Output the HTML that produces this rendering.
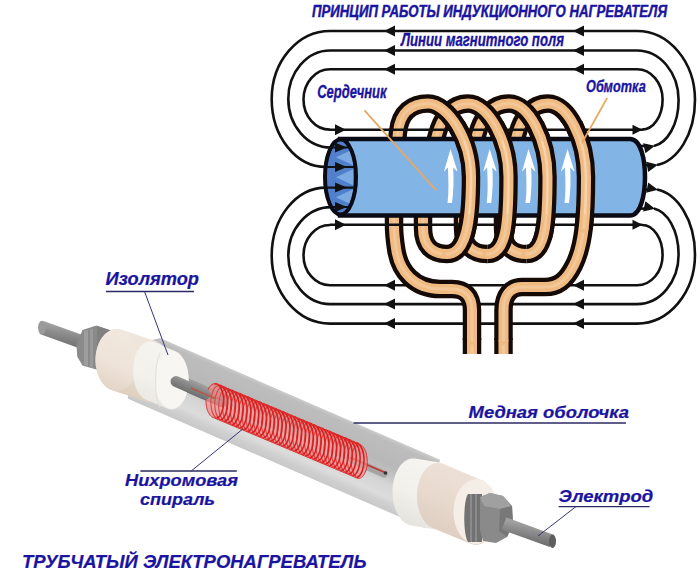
<!DOCTYPE html>
<html><head><meta charset="utf-8"><style>html,body{margin:0;padding:0;background:#fff;}svg{display:block;}</style></head>
<body><svg width="700" height="578" viewBox="0 0 700 578"><path d="M326,187.6 C296.0,187.6 271.7,218.0 271.7,255.6 C271.7,293.2 297.8,323.6 330,323.6 L637,323.6 C669.0,323.6 695.0,292.7 695,254.6 C695,219.6 677,193.6 657,189.6" fill="none" stroke="#111" stroke-width="2.6"/>
<path d="M384,323.6 L395,318.1 L395,329.1 Z" fill="#111"/>
<path d="M573,323.6 L584,318.1 L584,329.1 Z" fill="#111"/>
<g transform="rotate(11.3,657,189.6)"><path d="M658,189.6 L647,184.4 L647,194.79999999999998 Z" fill="#111"/></g>
<path d="M331,207.1 C307.4,207.1 288.3,228.8 288.3,255.6 C288.3,282.4 307.0,304.1 330,304.1 L637,304.1 C660.0,304.1 678.6,281.9 678.6,254.6 C678.6,229.6 667,211.6 654,208.6" fill="none" stroke="#111" stroke-width="2.6"/>
<path d="M384,304.1 L395,298.6 L395,309.6 Z" fill="#111"/>
<path d="M573,304.1 L584,298.6 L584,309.6 Z" fill="#111"/>
<g transform="rotate(13.0,654,208.6)"><path d="M655,208.6 L644,203.4 L644,213.79999999999998 Z" fill="#111"/></g>
<path d="M330,225.0 C315.4,225.0 303.5,238.5 303.5,255.15 C303.5,271.8 315.4,285.3 330,285.3 L637,285.3 C651.1,285.3 662.6,271.8 662.6,255.15 C662.6,238.5 653.4,225.0 642,225.0" fill="none" stroke="#111" stroke-width="2.6"/>
<path d="M384,285.3 L395,279.8 L395,290.8 Z" fill="#111"/>
<path d="M573,285.3 L584,279.8 L584,290.8 Z" fill="#111"/>
<path d="M640,208.6 L648,208.6" stroke="#111" stroke-width="2.6"/>
<path d="M640,189.6 L648,189.6" stroke="#111" stroke-width="2.6"/>
<path d="M326,167 C296.0,167.0 271.7,136.6 271.7,99.0 C271.7,61.4 297.8,31.0 330,31 L637,31 C669.0,31.0 695.0,61.9 695,100 C695,135 677,161 657,165" fill="none" stroke="#111" stroke-width="2.6"/>
<path d="M384,31 L395,25.5 L395,36.5 Z" fill="#111"/>
<path d="M573,31 L584,25.5 L584,36.5 Z" fill="#111"/>
<g transform="rotate(348.7,657,165)"><path d="M658,165 L647,159.8 L647,170.2 Z" fill="#111"/></g>
<path d="M331,147.5 C307.4,147.5 288.3,125.8 288.3,99.0 C288.3,72.2 307.0,50.5 330,50.5 L637,50.5 C660.0,50.5 678.6,72.7 678.6,100 C678.6,125 667,143 654,146" fill="none" stroke="#111" stroke-width="2.6"/>
<path d="M384,50.5 L395,45.0 L395,56.0 Z" fill="#111"/>
<path d="M573,50.5 L584,45.0 L584,56.0 Z" fill="#111"/>
<g transform="rotate(347.0,654,146)"><path d="M655,146 L644,140.8 L644,151.2 Z" fill="#111"/></g>
<path d="M330,129.6 C315.4,129.6 303.5,116.1 303.5,99.44999999999999 C303.5,82.8 315.4,69.3 330,69.3 L637,69.3 C651.1,69.3 662.6,82.8 662.6,99.44999999999999 C662.6,116.1 653.4,129.6 642,129.6" fill="none" stroke="#111" stroke-width="2.6"/>
<path d="M384,69.3 L395,63.8 L395,74.8 Z" fill="#111"/>
<path d="M573,69.3 L584,63.8 L584,74.8 Z" fill="#111"/>
<path d="M640,146 L648,146" stroke="#111" stroke-width="2.6"/>
<path d="M640,165 L648,165" stroke="#111" stroke-width="2.6"/>
<path d="M503.5,354 L503.5,338" fill="none" stroke="#150a06" stroke-width="18.5" stroke-linejoin="round"/>
<path d="M503.5,354 L503.5,338" fill="none" stroke="#efbb82" stroke-width="10" stroke-linejoin="round" stroke-linecap="butt"/>
<path d="M503.5,354 L503.5,338" fill="none" stroke="#f3c797" stroke-width="3" stroke-linejoin="round" stroke-linecap="butt"/>
<path d="M526.5,254 C511.5,254 503,246 503,228 L503,216 C503,190 513,150 517,135 C521,120 530,103.5 548,103.5 C568,103.5 586,140 586,177 C586,215 584,245 574,265 C566,281 558,287 545,287 L522,287 C510,287 503.5,296 503.5,310 L503.5,340" fill="none" stroke="#150a06" stroke-width="18.5" stroke-linejoin="round"/>
<path d="M526.5,254 C511.5,254 503,246 503,228 L503,216 C503,190 513,150 517,135 C521,120 530,103.5 548,103.5 C568,103.5 586,140 586,177 C586,215 584,245 574,265 C566,281 558,287 545,287 L522,287 C510,287 503.5,296 503.5,310 L503.5,340" fill="none" stroke="#efbb82" stroke-width="10" stroke-linejoin="round" stroke-linecap="round"/>
<path d="M526.5,254 C511.5,254 503,246 503,228 L503,216 C503,190 513,150 517,135 C521,120 530,103.5 548,103.5 C568,103.5 586,140 586,177 C586,215 584,245 574,265 C566,281 558,287 545,287 L522,287 C510,287 503.5,296 503.5,310 L503.5,340" fill="none" stroke="#f3c797" stroke-width="3" stroke-linejoin="round" stroke-linecap="round"/>
<path d="M487.5,254 C472.5,254 463,246 463,228 L463,216 C463,190 473,150 477,135 C481,120 490,103.5 509,103.5 C529,103.5 547.5,140 547.5,177 C547.5,222 545.5,254 526.5,254" fill="none" stroke="#150a06" stroke-width="18.5" stroke-linejoin="round"/>
<path d="M487.5,254 C472.5,254 463,246 463,228 L463,216 C463,190 473,150 477,135 C481,120 490,103.5 509,103.5 C529,103.5 547.5,140 547.5,177 C547.5,222 545.5,254 526.5,254" fill="none" stroke="#efbb82" stroke-width="10" stroke-linejoin="round" stroke-linecap="round"/>
<path d="M487.5,254 C472.5,254 463,246 463,228 L463,216 C463,190 473,150 477,135 C481,120 490,103.5 509,103.5 C529,103.5 547.5,140 547.5,177 C547.5,222 545.5,254 526.5,254" fill="none" stroke="#f3c797" stroke-width="3" stroke-linejoin="round" stroke-linecap="round"/>
<path d="M447,254 C432,254 423,246 423,228 L423,216 C423,190 433,150 437,135 C441,120 450,103.5 468,103.5 C488,103.5 508.5,140 508.5,177 C508.5,222 506.5,254 487.5,254" fill="none" stroke="#150a06" stroke-width="18.5" stroke-linejoin="round"/>
<path d="M447,254 C432,254 423,246 423,228 L423,216 C423,190 433,150 437,135 C441,120 450,103.5 468,103.5 C488,103.5 508.5,140 508.5,177 C508.5,222 506.5,254 487.5,254" fill="none" stroke="#efbb82" stroke-width="10" stroke-linejoin="round" stroke-linecap="round"/>
<path d="M447,254 C432,254 423,246 423,228 L423,216 C423,190 433,150 437,135 C441,120 450,103.5 468,103.5 C488,103.5 508.5,140 508.5,177 C508.5,222 506.5,254 487.5,254" fill="none" stroke="#f3c797" stroke-width="3" stroke-linejoin="round" stroke-linecap="round"/>
<path d="M472,354 L472,338" fill="none" stroke="#150a06" stroke-width="18.5" stroke-linejoin="round"/>
<path d="M472,354 L472,338" fill="none" stroke="#efbb82" stroke-width="10" stroke-linejoin="round" stroke-linecap="butt"/>
<path d="M472,354 L472,338" fill="none" stroke="#f3c797" stroke-width="3" stroke-linejoin="round" stroke-linecap="butt"/>
<path d="M472,340 L472,310 C472,296 465,289 452,289 L440,289 C415,289 399,272 396,248 C394.5,238 394,231 394,225 C394,180 396,150 398,132 C400,112 412,103.5 428,103.5 C448,103.5 471,140 471,177 C471,222 466,254 447,254" fill="none" stroke="#150a06" stroke-width="18.5" stroke-linejoin="round"/>
<path d="M472,340 L472,310 C472,296 465,289 452,289 L440,289 C415,289 399,272 396,248 C394.5,238 394,231 394,225 C394,180 396,150 398,132 C400,112 412,103.5 428,103.5 C448,103.5 471,140 471,177 C471,222 466,254 447,254" fill="none" stroke="#efbb82" stroke-width="10" stroke-linejoin="round" stroke-linecap="round"/>
<path d="M472,340 L472,310 C472,296 465,289 452,289 L440,289 C415,289 399,272 396,248 C394.5,238 394,231 394,225 C394,180 396,150 398,132 C400,112 412,103.5 428,103.5 C448,103.5 471,140 471,177 C471,222 466,254 447,254" fill="none" stroke="#f3c797" stroke-width="3" stroke-linejoin="round" stroke-linecap="round"/>
<path d="M340,139 L630,139 C641,139 645,160 645,177 C645,194 641,215.5 630,215.5 L340,215.5 Z" fill="#82b4e6" stroke="#0b0b16" stroke-width="4.5"/>
<defs><clipPath id="fc"><ellipse cx="340.5" cy="177" rx="14" ry="36"/></clipPath></defs>
<ellipse cx="340.5" cy="177" rx="15.5" ry="37.5" fill="#5080cc"/>
<g clip-path="url(#fc)">
<path d="M353,130 L336,138 L353,146 Z" fill="#7caae2"/>
<path d="M353,149.3 L336,157.3 L353,165.3 Z" fill="#7caae2"/>
<path d="M353,169.3 L336,177.3 L353,185.3 Z" fill="#7caae2"/>
<path d="M353,189.3 L336,197.3 L353,205.3 Z" fill="#7caae2"/>
<path d="M353,208 L336,216 L353,224 Z" fill="#7caae2"/>
<path d="M320,147.5 L354,147.5" stroke="#111" stroke-width="2.2"/>
<path d="M347,147.5 L335,142.5 L335,152.5 Z" fill="#111"/>
<path d="M320,167 L354,167" stroke="#111" stroke-width="2.2"/>
<path d="M347,167 L335,162 L335,172 Z" fill="#111"/>
<path d="M320,187.6 L354,187.6" stroke="#111" stroke-width="2.2"/>
<path d="M347,187.6 L335,182.6 L335,192.6 Z" fill="#111"/>
<path d="M320,207 L354,207" stroke="#111" stroke-width="2.2"/>
<path d="M347,207 L335,202 L335,212 Z" fill="#111"/>
</g>
<ellipse cx="340.5" cy="177" rx="15.5" ry="37.5" fill="none" stroke="#0b0b16" stroke-width="4"/>
<path d="M450.5,149 L457.5,171.5 C455.5,170 454.0,168.5 453.1,167.5 C454.0,180 453.5,192 452.0,203 L447.5,203 C449.0,192 448.5,180 447.9,167.5 C447.0,168.5 445.5,170 444.0,171.5 Z" fill="#fff"/>
<path d="M489.7,149 L496.7,171.5 C494.7,170 493.2,168.5 492.3,167.5 C493.2,180 492.7,192 491.2,203 L486.7,203 C488.2,192 487.7,180 487.09999999999997,167.5 C486.2,168.5 484.7,170 483.2,171.5 Z" fill="#fff"/>
<path d="M528.5,149 L535.5,171.5 C533.5,170 532.0,168.5 531.1,167.5 C532.0,180 531.5,192 530.0,203 L525.5,203 C527.0,192 526.5,180 525.9,167.5 C525.0,168.5 523.5,170 522.0,171.5 Z" fill="#fff"/>
<path d="M567.5,149 L574.5,171.5 C572.5,170 571.0,168.5 570.1,167.5 C571.0,180 570.5,192 569.0,203 L564.5,203 C566.0,192 565.5,180 564.9,167.5 C564.0,168.5 562.5,170 561.0,171.5 Z" fill="#fff"/>
<path d="M330,129.8 L642,129.8" fill="none" stroke="#111" stroke-width="2.6"/>
<path d="M346,129.8 L335,124.30000000000001 L335,135.3 Z" fill="#111"/>
<path d="M642.5,129.8 L632.5,124.80000000000001 L632.5,134.8 Z" fill="#111"/>
<path d="M330,224.8 L642,224.8" fill="none" stroke="#111" stroke-width="2.6"/>
<path d="M346,224.8 L335,219.3 L335,230.3 Z" fill="#111"/>
<path d="M642.5,224.8 L632.5,219.8 L632.5,229.8 Z" fill="#111"/>
<defs><clipPath id="corec"><rect x="440" y="141" width="160" height="73"/></clipPath><clipPath id="frontc"><rect x="380" y="121" width="240" height="119"/></clipPath></defs>
<g clip-path="url(#frontc)">
<path d="M548,103.5 C568,103.5 586,140 586,177 C586,196 585.5,213 583.75,227.75" fill="none" stroke="#150a06" stroke-width="18.5" stroke-linejoin="round"/>
<path d="M548,103.5 C568,103.5 586,140 586,177 C586,196 585.5,213 583.75,227.75" fill="none" stroke="#efbb82" stroke-width="10" stroke-linejoin="round" stroke-linecap="round"/>
<path d="M548,103.5 C568,103.5 586,140 586,177 C586,196 585.5,213 583.75,227.75" fill="none" stroke="#f3c797" stroke-width="3" stroke-linejoin="round" stroke-linecap="round"/>
<path d="M548,103.5 C568,103.5 586,140 586,177 C586,196 585.5,213 583.75,227.75" fill="none" stroke="#f8d6b0" stroke-width="2" opacity="0.85" clip-path="url(#corec)"/>
<path d="M509,103.5 C529,103.5 547.5,140 547.5,177 C547.5,222 545.5,254 526.5,254" fill="none" stroke="#150a06" stroke-width="18.5" stroke-linejoin="round"/>
<path d="M509,103.5 C529,103.5 547.5,140 547.5,177 C547.5,222 545.5,254 526.5,254" fill="none" stroke="#efbb82" stroke-width="10" stroke-linejoin="round" stroke-linecap="round"/>
<path d="M509,103.5 C529,103.5 547.5,140 547.5,177 C547.5,222 545.5,254 526.5,254" fill="none" stroke="#f3c797" stroke-width="3" stroke-linejoin="round" stroke-linecap="round"/>
<path d="M509,103.5 C529,103.5 547.5,140 547.5,177 C547.5,222 545.5,254 526.5,254" fill="none" stroke="#f8d6b0" stroke-width="2" opacity="0.85" clip-path="url(#corec)"/>
<path d="M468,103.5 C488,103.5 508.5,140 508.5,177 C508.5,222 506.5,254 487.5,254" fill="none" stroke="#150a06" stroke-width="18.5" stroke-linejoin="round"/>
<path d="M468,103.5 C488,103.5 508.5,140 508.5,177 C508.5,222 506.5,254 487.5,254" fill="none" stroke="#efbb82" stroke-width="10" stroke-linejoin="round" stroke-linecap="round"/>
<path d="M468,103.5 C488,103.5 508.5,140 508.5,177 C508.5,222 506.5,254 487.5,254" fill="none" stroke="#f3c797" stroke-width="3" stroke-linejoin="round" stroke-linecap="round"/>
<path d="M468,103.5 C488,103.5 508.5,140 508.5,177 C508.5,222 506.5,254 487.5,254" fill="none" stroke="#f8d6b0" stroke-width="2" opacity="0.85" clip-path="url(#corec)"/>
<path d="M428,103.5 C448,103.5 471,140 471,177 C471,222 466,254 447,254" fill="none" stroke="#150a06" stroke-width="18.5" stroke-linejoin="round"/>
<path d="M428,103.5 C448,103.5 471,140 471,177 C471,222 466,254 447,254" fill="none" stroke="#efbb82" stroke-width="10" stroke-linejoin="round" stroke-linecap="round"/>
<path d="M428,103.5 C448,103.5 471,140 471,177 C471,222 466,254 447,254" fill="none" stroke="#f3c797" stroke-width="3" stroke-linejoin="round" stroke-linecap="round"/>
<path d="M428,103.5 C448,103.5 471,140 471,177 C471,222 466,254 447,254" fill="none" stroke="#f8d6b0" stroke-width="2" opacity="0.85" clip-path="url(#corec)"/>
</g>
<path d="M364.5,110.4 L436.2,190.3" stroke="#e8a860" stroke-width="1.8"/>
<path d="M607.2,97.9 L581.8,143.3" stroke="#e8a860" stroke-width="1.8"/>
<defs>
<linearGradient id="tubeg" gradientUnits="userSpaceOnUse" x1="293.8" y1="395.9" x2="266.2" y2="459.1"><stop offset="0" stop-color="#cccccc"/><stop offset="0.06" stop-color="#bdbdbd"/><stop offset="0.35" stop-color="#b8b8b8"/><stop offset="0.5" stop-color="#c2c2c2"/><stop offset="0.62" stop-color="#d4d4d4"/><stop offset="0.8" stop-color="#dcdcdc"/><stop offset="0.9" stop-color="#cfcfcf"/><stop offset="1" stop-color="#c8c8c8"/></linearGradient>
<linearGradient id="rodgL" gradientUnits="userSpaceOnUse" x1="65" y1="327" x2="62" y2="344"><stop offset="0" stop-color="#a0a0a0"/><stop offset="0.4" stop-color="#8c8c8c"/><stop offset="1" stop-color="#747474"/></linearGradient>
<linearGradient id="rodgR" gradientUnits="userSpaceOnUse" x1="530" y1="525" x2="527" y2="541"><stop offset="0" stop-color="#a0a0a0"/><stop offset="0.4" stop-color="#8c8c8c"/><stop offset="1" stop-color="#707070"/></linearGradient>
<linearGradient id="irodg" gradientUnits="userSpaceOnUse" x1="282.8" y1="419.6" x2="277.2" y2="432.4"><stop offset="0" stop-color="#a0a0a0"/><stop offset="0.4" stop-color="#8a8a8a"/><stop offset="1" stop-color="#6e6e6e"/></linearGradient>
<linearGradient id="creamL" gradientUnits="userSpaceOnUse" x1="148.2" y1="336.7" x2="121.8" y2="397.3"><stop offset="0" stop-color="#efe7de"/><stop offset="0.5" stop-color="#ece1d5"/><stop offset="1" stop-color="#dccdbd"/></linearGradient>
<linearGradient id="creamR" gradientUnits="userSpaceOnUse" x1="468.6" y1="468.8" x2="441.4" y2="531.2"><stop offset="0" stop-color="#ede2d8"/><stop offset="0.5" stop-color="#e9dacf"/><stop offset="1" stop-color="#dfcfc2"/></linearGradient>
<linearGradient id="whiteL" gradientUnits="userSpaceOnUse" x1="173.6" y1="343.8" x2="146.4" y2="406.2"><stop offset="0" stop-color="#f6f4ef"/><stop offset="0.6" stop-color="#f3f1ec"/><stop offset="1" stop-color="#e8e6e0"/></linearGradient>
<linearGradient id="whiteR" gradientUnits="userSpaceOnUse" x1="433.6" y1="458.8" x2="406.4" y2="521.2"><stop offset="0" stop-color="#f6f5f1"/><stop offset="0.6" stop-color="#f2f0eb"/><stop offset="1" stop-color="#e6e4de"/></linearGradient>
<linearGradient id="coilg" gradientUnits="userSpaceOnUse" x1="293.8" y1="415.4" x2="280.2" y2="446.6"><stop offset="0" stop-color="#ee6a6a"/><stop offset="0.5" stop-color="#f49a9a"/><stop offset="1" stop-color="#ee7070"/></linearGradient>
<linearGradient id="creamLF" gradientUnits="userSpaceOnUse" x1="129.4" y1="331.6" x2="104.6" y2="388.4"><stop offset="0" stop-color="#f1e8df"/><stop offset="0.6" stop-color="#eee3d8"/><stop offset="1" stop-color="#e2d3c5"/></linearGradient>
</defs>
<path d="M160,338.0 L440,459.8 L425,527.9 L128,398.7 L128,392 L145,342 Z" fill="url(#tubeg)"/>
<path d="M174,379.2 L222,400.3" stroke="url(#irodg)" stroke-width="13.5" stroke-linecap="round"/>
<path d="M352,460 L384,474" stroke="#a4a4a4" stroke-width="7" stroke-linecap="round"/>
<path d="M190,386.2 L222,400.3 M350,457.5 L385,472.5" stroke="#bf3a30" stroke-width="1.8"/>
<circle cx="385.5" cy="473" r="1.8" fill="#333"/>
<path d="M206.0,400.7 L206.0,399.2 L206.1,397.8 L206.3,396.3 L206.5,394.9 L206.8,393.5 L207.1,392.2 L207.5,390.9 L208.0,389.8 L208.5,388.7 L209.0,387.7 L209.6,386.8 L210.2,386.0 L210.9,385.3 L211.6,384.7 L212.3,384.3 L213.0,384.0 L213.8,383.8 L214.5,383.7 L215.2,383.8 L216.0,384.0 L360.2,444.7 L360.9,445.0 L361.6,445.4 L362.3,446.0 L362.9,446.7 L363.6,447.5 L364.2,448.4 L364.7,449.4 L365.2,450.5 L365.7,451.6 L366.1,452.9 L366.4,454.2 L366.7,455.6 L366.9,457.0 L367.1,458.4 L367.2,459.9 L367.2,461.4 L367.2,462.9 L367.1,464.4 L366.9,465.8 L366.7,467.2 L366.4,468.6 L366.1,469.9 L365.7,471.1 L365.2,472.3 L364.7,473.4 L364.2,474.4 L363.6,475.3 L362.9,476.1 L362.3,476.8 L361.6,477.4 L360.9,477.8 L360.2,478.1 L359.4,478.3 L358.7,478.4 L358.0,478.3 L357.2,478.1 L213.0,417.4 L212.3,417.1 L211.6,416.7 L210.9,416.1 L210.2,415.4 L209.6,414.6 L209.0,413.7 L208.5,412.7 L208.0,411.6 L207.5,410.4 L207.1,409.2 L206.8,407.9 L206.5,406.5 L206.3,405.1 L206.1,403.6 L206.0,402.2 Z" fill="url(#coilg)" opacity="0.62"/>
<path d="M216.45,418.32 A8,16.8 0 0 1 218.40,385.54 M220.35,419.96 A8,16.8 0 0 1 222.29,387.18 M224.24,421.60 A8,16.8 0 0 1 226.19,388.82 M228.14,423.24 A8,16.8 0 0 1 230.09,390.46 M232.04,424.88 A8,16.8 0 0 1 233.99,392.10 M235.94,426.52 A8,16.8 0 0 1 237.88,393.74 M239.83,428.16 A8,16.8 0 0 1 241.78,395.38 M243.73,429.80 A8,16.8 0 0 1 245.68,397.02 M247.63,431.44 A8,16.8 0 0 1 249.58,398.66 M251.52,433.09 A8,16.8 0 0 1 253.47,400.31 M255.42,434.73 A8,16.8 0 0 1 257.37,401.95 M259.32,436.37 A8,16.8 0 0 1 261.27,403.59 M263.22,438.01 A8,16.8 0 0 1 265.16,405.23 M267.11,439.65 A8,16.8 0 0 1 269.06,406.87 M271.01,441.29 A8,16.8 0 0 1 272.96,408.51 M274.91,442.93 A8,16.8 0 0 1 276.86,410.15 M278.81,444.57 A8,16.8 0 0 1 280.75,411.79 M282.70,446.21 A8,16.8 0 0 1 284.65,413.43 M286.60,447.85 A8,16.8 0 0 1 288.55,415.07 M290.50,449.49 A8,16.8 0 0 1 292.45,416.71 M294.39,451.13 A8,16.8 0 0 1 296.34,418.35 M298.29,452.77 A8,16.8 0 0 1 300.24,419.99 M302.19,454.41 A8,16.8 0 0 1 304.14,421.63 M306.09,456.05 A8,16.8 0 0 1 308.04,423.27 M309.98,457.69 A8,16.8 0 0 1 311.93,424.91 M313.88,459.33 A8,16.8 0 0 1 315.83,426.55 M317.78,460.97 A8,16.8 0 0 1 319.73,428.19 M321.68,462.61 A8,16.8 0 0 1 323.62,429.84 M325.57,464.26 A8,16.8 0 0 1 327.52,431.48 M329.47,465.90 A8,16.8 0 0 1 331.42,433.12 M333.37,467.54 A8,16.8 0 0 1 335.32,434.76 M337.26,469.18 A8,16.8 0 0 1 339.21,436.40 M341.16,470.82 A8,16.8 0 0 1 343.11,438.04 M345.06,472.46 A8,16.8 0 0 1 347.01,439.68 M348.96,474.10 A8,16.8 0 0 1 350.91,441.32 M352.85,475.74 A8,16.8 0 0 1 354.80,442.96 M356.75,477.38 A8,16.8 0 0 1 358.70,444.60 " fill="none" stroke="#e04444" stroke-width="1.15"/>
<path d="M214.50,383.90 A8,16.8 0 0 1 216.45,418.32 M218.40,385.54 A8,16.8 0 0 1 220.35,419.96 M222.29,387.18 A8,16.8 0 0 1 224.24,421.60 M226.19,388.82 A8,16.8 0 0 1 228.14,423.24 M230.09,390.46 A8,16.8 0 0 1 232.04,424.88 M233.99,392.10 A8,16.8 0 0 1 235.94,426.52 M237.88,393.74 A8,16.8 0 0 1 239.83,428.16 M241.78,395.38 A8,16.8 0 0 1 243.73,429.80 M245.68,397.02 A8,16.8 0 0 1 247.63,431.44 M249.58,398.66 A8,16.8 0 0 1 251.52,433.09 M253.47,400.31 A8,16.8 0 0 1 255.42,434.73 M257.37,401.95 A8,16.8 0 0 1 259.32,436.37 M261.27,403.59 A8,16.8 0 0 1 263.22,438.01 M265.16,405.23 A8,16.8 0 0 1 267.11,439.65 M269.06,406.87 A8,16.8 0 0 1 271.01,441.29 M272.96,408.51 A8,16.8 0 0 1 274.91,442.93 M276.86,410.15 A8,16.8 0 0 1 278.81,444.57 M280.75,411.79 A8,16.8 0 0 1 282.70,446.21 M284.65,413.43 A8,16.8 0 0 1 286.60,447.85 M288.55,415.07 A8,16.8 0 0 1 290.50,449.49 M292.45,416.71 A8,16.8 0 0 1 294.39,451.13 M296.34,418.35 A8,16.8 0 0 1 298.29,452.77 M300.24,419.99 A8,16.8 0 0 1 302.19,454.41 M304.14,421.63 A8,16.8 0 0 1 306.09,456.05 M308.04,423.27 A8,16.8 0 0 1 309.98,457.69 M311.93,424.91 A8,16.8 0 0 1 313.88,459.33 M315.83,426.55 A8,16.8 0 0 1 317.78,460.97 M319.73,428.19 A8,16.8 0 0 1 321.68,462.61 M323.62,429.84 A8,16.8 0 0 1 325.57,464.26 M327.52,431.48 A8,16.8 0 0 1 329.47,465.90 M331.42,433.12 A8,16.8 0 0 1 333.37,467.54 M335.32,434.76 A8,16.8 0 0 1 337.26,469.18 M339.21,436.40 A8,16.8 0 0 1 341.16,470.82 M343.11,438.04 A8,16.8 0 0 1 345.06,472.46 M347.01,439.68 A8,16.8 0 0 1 348.96,474.10 M350.91,441.32 A8,16.8 0 0 1 352.85,475.74 M354.80,442.96 A8,16.8 0 0 1 356.75,477.38 " fill="none" stroke="#da1e1e" stroke-width="1.55"/>
<path d="M206.0,400.7 L206.0,399.2 L206.1,397.8 L206.3,396.3 L206.5,394.9 L206.8,393.5 L207.1,392.2 L207.5,390.9 L208.0,389.8 L208.5,388.7 L209.0,387.7 L209.6,386.8 L210.2,386.0 L210.9,385.3 L211.6,384.7 L212.3,384.3 L213.0,384.0 L213.8,383.8 L214.5,383.7 L215.2,383.8 L216.0,384.0 L360.2,444.7 L360.9,445.0 L361.6,445.4 L362.3,446.0 L362.9,446.7 L363.6,447.5 L364.2,448.4 L364.7,449.4 L365.2,450.5 L365.7,451.6 L366.1,452.9 L366.4,454.2 L366.7,455.6 L366.9,457.0 L367.1,458.4 L367.2,459.9 L367.2,461.4 L367.2,462.9 L367.1,464.4 L366.9,465.8 L366.7,467.2 L366.4,468.6 L366.1,469.9 L365.7,471.1 L365.2,472.3 L364.7,473.4 L364.2,474.4 L363.6,475.3 L362.9,476.1 L362.3,476.8 L361.6,477.4 L360.9,477.8 L360.2,478.1 L359.4,478.3 L358.7,478.4 L358.0,478.3 L357.2,478.1 L213.0,417.4 L212.3,417.1 L211.6,416.7 L210.9,416.1 L210.2,415.4 L209.6,414.6 L209.0,413.7 L208.5,412.7 L208.0,411.6 L207.5,410.4 L207.1,409.2 L206.8,407.9 L206.5,406.5 L206.3,405.1 L206.1,403.6 L206.0,402.2 Z" fill="none" stroke="#e03030" stroke-width="1"/>
<path d="M42,327.6 L92,345.6" stroke="url(#rodgL)" stroke-width="13.5"/>
<ellipse cx="42" cy="327.6" rx="4" ry="6.8" fill="#9a9a9a"/>
<path d="M76.4,344.6 L82.5,329.9 L96.3,325.5 L111,330.6 L112,362 L97.2,369.7 L82.5,365.4 L77.3,356.7 Z" fill="#8a8a8a"/>
<path d="M84,331 L88,330 L88,366 L84,365 Z" fill="#9e9e9e"/>
<path d="M90,329 L93,328.5 L93,368 L90,367.5 Z" fill="#9a9a9a"/>
<path d="M97,326 L111,330.6 L112,362 L97.2,369.7 Z" fill="#808080"/>
<path d="M95.5,360.0 L95.6,357.3 L95.8,354.6 L96.2,352.0 L96.8,349.4 L97.5,346.9 L98.4,344.5 L99.4,342.2 L100.5,340.1 L101.8,338.1 L103.2,336.2 L104.7,334.6 L106.2,333.1 L107.9,331.9 L109.7,330.9 L111.4,330.1 L113.3,329.5 L115.1,329.1 L117.0,329.0 L118.9,329.1 L120.7,329.5 L122.6,330.1 L155.6,341.1 L157.3,341.9 L159.1,342.9 L160.8,344.1 L162.3,345.6 L163.8,347.2 L165.2,349.1 L166.5,351.1 L167.6,353.2 L168.6,355.5 L169.5,357.9 L170.2,360.4 L170.8,363.0 L171.2,365.6 L171.4,368.3 L171.5,371.0 L171.4,373.7 L171.2,376.4 L170.8,379.0 L170.2,381.6 L169.5,384.1 L168.6,386.5 L167.6,388.8 L166.5,390.9 L165.2,392.9 L163.8,394.8 L162.3,396.4 L160.8,397.9 L159.1,399.1 L157.3,400.1 L155.6,400.9 L153.7,401.5 L151.9,401.9 L150.0,402.0 L148.1,401.9 L146.3,401.5 L144.4,400.9 L111.4,389.9 L109.7,389.1 L107.9,388.1 L106.2,386.9 L104.7,385.4 L103.2,383.8 L101.8,381.9 L100.5,379.9 L99.4,377.8 L98.4,375.5 L97.5,373.1 L96.8,370.6 L96.2,368.0 L95.8,365.4 L95.6,362.7 Z" fill="url(#creamL)" />
<ellipse cx="117" cy="360" rx="21.5" ry="31" fill="url(#creamLF)"/>
<path d="M133.0,371.0 L133.1,368.4 L133.3,365.9 L133.6,363.4 L134.0,360.9 L134.6,358.5 L135.3,356.2 L136.1,354.1 L137.0,352.0 L138.0,350.1 L139.1,348.4 L140.2,346.8 L141.5,345.4 L142.8,344.3 L144.2,343.3 L145.6,342.5 L147.1,341.9 L148.5,341.6 L150.0,341.5 L151.5,341.6 L152.9,341.9 L154.4,342.5 L176.0,351.5 L177.4,352.3 L178.8,353.3 L180.1,354.4 L181.3,355.8 L182.5,357.4 L183.6,359.1 L184.6,361.0 L185.5,363.1 L186.3,365.2 L187.0,367.5 L187.6,369.9 L188.0,372.4 L188.3,374.9 L188.5,377.4 L188.6,380.0 L188.5,382.6 L188.3,385.1 L188.0,387.6 L187.6,390.1 L187.0,392.5 L186.3,394.8 L185.5,396.9 L184.6,399.0 L183.6,400.9 L182.5,402.6 L181.3,404.2 L180.1,405.6 L178.8,406.7 L177.4,407.7 L176.0,408.5 L174.6,409.1 L173.1,409.4 L171.6,409.5 L170.1,409.4 L168.7,409.1 L167.2,408.5 L145.6,399.5 L144.2,398.7 L142.8,397.7 L141.5,396.6 L140.2,395.2 L139.1,393.6 L138.0,391.9 L137.0,390.0 L136.1,387.9 L135.3,385.8 L134.6,383.5 L134.0,381.1 L133.6,378.6 L133.3,376.1 L133.1,373.6 Z" fill="url(#whiteL)" />
<ellipse cx="171.6" cy="380" rx="17" ry="28.8" fill="#f7f6f2"/>
<path d="M160,353 C154,366 154,396 160,407" fill="none" stroke="#e4e2dc" stroke-width="1.2"/>
<path d="M176,381.5 L205,394.2" stroke="url(#irodg)" stroke-width="11" stroke-linecap="round"/>
<path d="M191,388 L215,398.5" stroke="#b05a48" stroke-width="1.4"/>
<path d="M392.5,492.0 L392.6,489.1 L392.8,486.2 L393.2,483.3 L393.7,480.5 L394.4,477.8 L395.2,475.2 L396.2,472.8 L397.3,470.5 L398.5,468.3 L399.8,466.3 L401.2,464.6 L402.8,463.0 L404.3,461.6 L406.0,460.5 L407.7,459.6 L409.4,459.0 L411.2,458.6 L413.0,458.5 L414.8,458.6 L439.8,462.6 L441.6,463.0 L443.3,463.6 L445.0,464.5 L446.7,465.6 L448.2,467.0 L449.8,468.6 L451.2,470.3 L452.5,472.3 L453.7,474.5 L454.8,476.8 L455.8,479.2 L456.6,481.8 L457.3,484.5 L457.8,487.3 L458.2,490.2 L458.4,493.1 L458.5,496.0 L458.4,498.9 L458.2,501.8 L457.8,504.7 L457.3,507.5 L456.6,510.2 L455.8,512.8 L454.8,515.2 L453.7,517.5 L452.5,519.7 L451.2,521.7 L449.8,523.4 L448.2,525.0 L446.7,526.4 L445.0,527.5 L443.3,528.4 L441.6,529.0 L439.8,529.4 L438.0,529.5 L436.2,529.4 L411.2,525.4 L409.4,525.0 L407.7,524.4 L406.0,523.5 L404.3,522.4 L402.8,521.0 L401.2,519.4 L399.8,517.7 L398.5,515.7 L397.3,513.5 L396.2,511.2 L395.2,508.8 L394.4,506.2 L393.7,503.5 L393.2,500.7 L392.8,497.8 L392.6,494.9 Z" fill="url(#whiteR)" />
<path d="M417.0,496.0 L417.1,493.1 L417.3,490.3 L417.7,487.5 L418.3,484.7 L419.0,482.1 L419.8,479.5 L420.8,477.1 L421.9,474.8 L423.1,472.7 L424.5,470.7 L425.9,469.0 L427.5,467.4 L429.1,466.1 L430.8,465.0 L432.6,464.1 L434.4,463.5 L436.2,463.1 L438.0,463.0 L439.8,463.1 L441.6,463.5 L443.4,464.1 L481.4,479.9 L483.2,480.8 L484.9,481.9 L486.5,483.2 L488.1,484.8 L489.5,486.5 L490.9,488.5 L492.1,490.6 L493.2,492.9 L494.2,495.3 L495.0,497.9 L495.7,500.5 L496.3,503.3 L496.7,506.1 L496.9,508.9 L497.0,511.8 L496.9,514.7 L496.7,517.5 L496.3,520.3 L495.7,523.1 L495.0,525.8 L494.2,528.3 L493.2,530.7 L492.1,533.0 L490.9,535.1 L489.5,537.1 L488.1,538.8 L486.5,540.4 L484.9,541.7 L483.2,542.8 L481.4,543.7 L479.6,544.3 L477.8,544.7 L476.0,544.8 L474.2,544.7 L472.4,544.3 L470.6,543.7 L432.6,527.9 L430.8,527.0 L429.1,525.9 L427.5,524.6 L425.9,523.0 L424.5,521.3 L423.1,519.3 L421.9,517.2 L420.8,514.9 L419.8,512.5 L419.0,509.9 L418.3,507.3 L417.7,504.5 L417.3,501.7 L417.1,498.9 Z" fill="url(#creamR)" />
<ellipse cx="476" cy="511.8" rx="22.5" ry="32.5" fill="#f5eee6"/>
<path d="M468,494 L482,494 L482,542 L468,542 C463,535 463,501 468,494 Z" fill="#727272"/>
<path d="M471,494 L471,542 M476,494 L476,542" stroke="#8e8e8e" stroke-width="1.8"/>
<path d="M480,497 L490,493 L503,496 L512,506 L513,524 L507,537 L496,543 L483,541 L480,530 Z" fill="#8a8a8a"/>
<path d="M480,497 L490,493 L503,496 L512,506 L500,509 L484,506 Z" fill="#a0a0a0"/>
<path d="M500,509 L512,506 L513,524 L507,537 L499,531 Z" fill="#787878"/>
<path d="M504,523.5 L552,541" stroke="url(#rodgR)" stroke-width="13"/>
<ellipse cx="552.5" cy="541.2" rx="3.5" ry="6.8" fill="#5e5e5e"/>
<path d="M106,291.4 L194,291.4 M353.6,423 L626,423 M558.6,506.6 L649.6,506.6 M140.4,471 L236.8,471" stroke="#2b2b64" stroke-width="1.45" fill="none"/>
<path d="M144.5,291.4 L168,355 M576,506.6 L538,536 M191.2,471 L243,428.8" stroke="#34347a" stroke-width="1" fill="none"/>
<g font-family="Liberation Sans" font-weight="bold" font-style="italic" fill="#1a14a0" stroke="#1a14a0" stroke-width="0.22">
<text x="312" y="17.2" font-size="15.6" textLength="355" lengthAdjust="spacingAndGlyphs" stroke="#1a14a0" stroke-width="0.45">ПРИНЦИП РАБОТЫ ИНДУКЦИОННОГО НАГРЕВАТЕЛЯ</text>
<text x="400.9" y="45.6" font-size="18.2" textLength="163" lengthAdjust="spacingAndGlyphs" stroke="#1a14a0" stroke-width="0.35">Линии магнитного поля</text>
<text x="317.2" y="97.6" font-size="17.6" textLength="69.4" lengthAdjust="spacingAndGlyphs" stroke="#1a14a0" stroke-width="0.35">Сердечник</text>
<text x="586" y="91.6" font-size="17.4" textLength="59.7" lengthAdjust="spacingAndGlyphs" stroke="#1a14a0" stroke-width="0.35">Обмотка</text>
<text x="105.4" y="285.4" font-size="17.5" textLength="93.6" lengthAdjust="spacingAndGlyphs" >Изолятор</text>
<text x="468.6" y="418" font-size="17" textLength="160.4" lengthAdjust="spacingAndGlyphs" >Медная оболочка</text>
<text x="558.6" y="501.9" font-size="16.5" textLength="94.7" lengthAdjust="spacingAndGlyphs" >Электрод</text>
<text x="125" y="486" font-size="17" textLength="113" lengthAdjust="spacingAndGlyphs" >Нихромовая</text>
<text x="140" y="505" font-size="17" textLength="75" lengthAdjust="spacingAndGlyphs" >спираль</text>
<text x="22" y="568.3" font-size="17.5" textLength="344.6" lengthAdjust="spacingAndGlyphs" >ТРУБЧАТЫЙ ЭЛЕКТРОНАГРЕВАТЕЛЬ</text>
</g></svg></body></html>
